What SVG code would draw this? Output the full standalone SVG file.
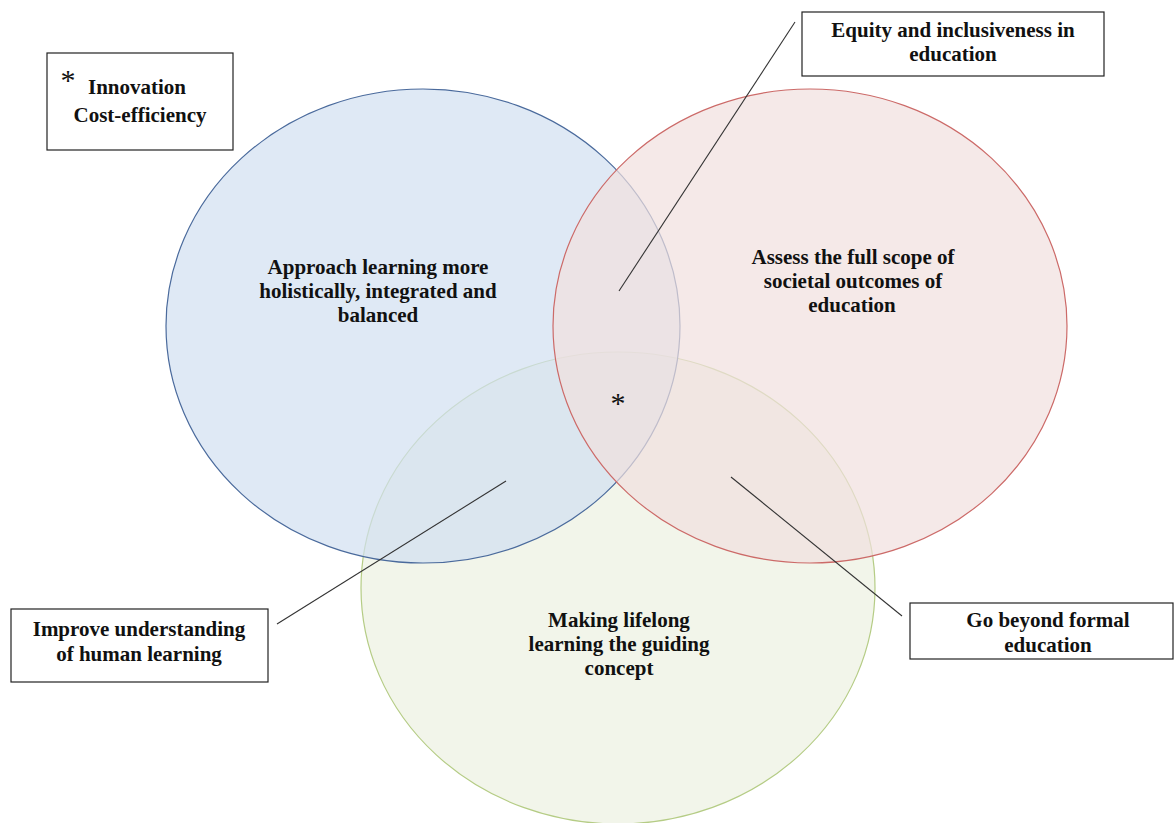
<svg xmlns="http://www.w3.org/2000/svg" width="1174" height="823" viewBox="0 0 1174 823">
<style>
text{font-family:"Liberation Serif","Times New Roman",serif;font-weight:bold;font-size:21px;fill:#111;text-anchor:middle}
.box{fill:#fff;stroke:#222;stroke-width:1.2}
.ln{stroke:#333;stroke-width:1.1;fill:none}
.ast{font-size:30px;font-weight:normal}
</style>
<rect width="1174" height="823" fill="#fff"/>
<g id="circle-green">
<ellipse cx="618" cy="588" rx="257" ry="236" fill="#f2f5ea" stroke="#b5cc85" stroke-width="1.2"/>
</g>
<g id="circle-blue">
<ellipse cx="423" cy="326" rx="257" ry="237" fill="rgb(209,224,241)" fill-opacity="0.7" stroke="#4a6a9c" stroke-width="1.2"/>
</g>
<g id="circle-red">
<ellipse cx="810" cy="326" rx="257" ry="237" fill="rgb(241,224,222)" fill-opacity="0.7" stroke="#cc6a68" stroke-width="1.2"/>
</g>
<g id="labels-circles">
<text x="378" y="274">Approach learning more</text>
<text x="378" y="298">holistically, integrated and</text>
<text x="378" y="322">balanced</text>
<text x="853" y="264">Assess the full scope of</text>
<text x="853" y="288">societal outcomes of</text>
<text x="852" y="312">education</text>
<text x="619" y="627">Making lifelong</text>
<text x="619" y="651">learning the guiding</text>
<text x="619" y="675">concept</text>
<text class="ast" x="618" y="413">*</text>
</g>
<g id="connectors">
<line class="ln" x1="619" y1="291" x2="795" y2="22"/>
<line class="ln" x1="506" y1="481" x2="277" y2="624"/>
<line class="ln" x1="731" y1="477" x2="902" y2="616"/>
</g>
<g id="box-innovation">
<rect class="box" x="47" y="53" width="186" height="97"/>
<text class="ast" x="68" y="90">*</text>
<text x="137" y="94">Innovation</text>
<text x="140" y="122">Cost-efficiency</text>
</g>
<g id="box-equity">
<rect class="box" x="802" y="12" width="302" height="64"/>
<text x="953" y="37">Equity and inclusiveness in</text>
<text x="953" y="61">education</text>
</g>
<g id="box-human">
<rect class="box" x="11" y="609" width="257" height="73"/>
<text x="139" y="636">Improve understanding</text>
<text x="139" y="661">of human learning</text>
</g>
<g id="box-formal">
<rect class="box" x="910" y="603" width="263" height="56"/>
<text x="1048" y="627">Go beyond formal</text>
<text x="1048" y="652">education</text>
</g>
</svg>
